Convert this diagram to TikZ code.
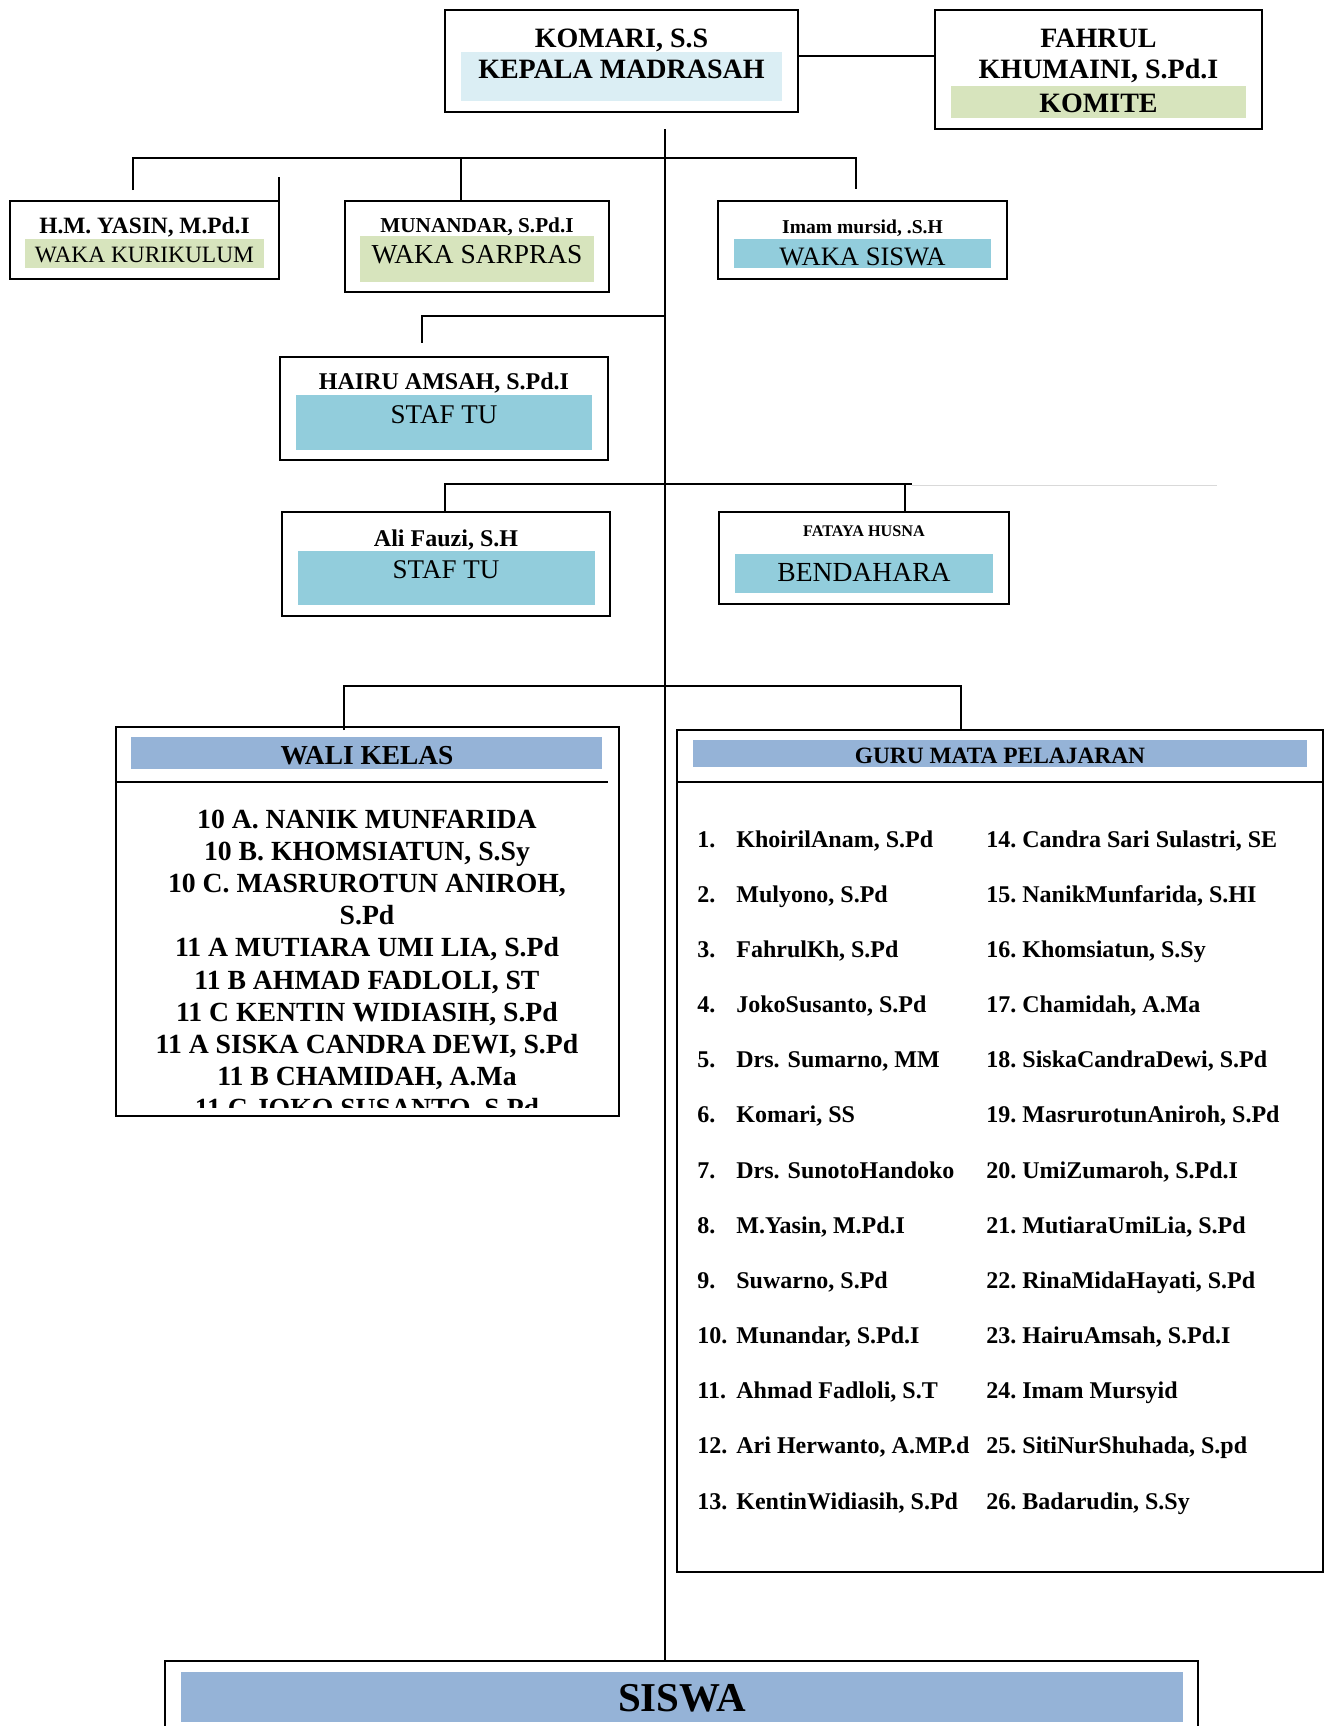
\documentclass[tikz,border=0pt]{standalone}
\usepackage{fontspec}
\setmainfont{Liberation Serif}
\definecolor{kepfill}{HTML}{DBEEF4}
\definecolor{grnfill}{HTML}{D7E4BD}
\definecolor{tealfill}{HTML}{92CDDC}
\definecolor{hdrfill}{HTML}{95B3D7}
\newcommand\myfs[1]{\fontsize{#1}{#1}\selectfont}
\newcommand\gitemA[3]{%
  \node[gtxt] (gn#2) at (697,{847+55.17*(#1-1)}) {#2.};
  \node[gtxt] (gt#2) at (736,{847+55.17*(#1-1)}) {#3};}
\newcommand\gitemB[3]{%
  \node[gtxt] (gn#2) at (986,{847+55.17*(#1-1)}) {#2.};
  \node[gtxt] (gt#2) at (1022,{847+55.17*(#1-1)}) {#3};}
\begin{document}
\begin{tikzpicture}[x=0.5pt,y=-0.5pt,
  box/.style={draw, line width=1.1pt, inner sep=0pt, outer sep=0pt},
  conn/.style={line width=1pt},
  trunk/.style={line width=0.8pt},
  txt/.style={anchor=base, inner sep=0pt},
  bold/.style={txt, font=\myfs{#1}\bfseries},
  reg/.style={txt, font=\myfs{#1}},
  gtxt/.style={anchor=base west, inner sep=0pt, font=\myfs{12}\bfseries}]
\clip (0,0) rectangle (1328,1726);
\fill[white] (0,0) rectangle (1328,1726);
% boxes
\node[box, minimum width=176.5pt, minimum height=51pt] (kep) at (621.5,61) {};
\node[box, minimum width=163.5pt, minimum height=59.5pt] (kom) at (1098.5,69.5) {};
\node[box, minimum width=134.5pt, minimum height=39pt] (kur) at (144.5,240) {};
\node[box, minimum width=132pt, minimum height=45.5pt] (sar) at (477,246.5) {};
\node[box, minimum width=144.5pt, minimum height=39pt] (wsis) at (862.5,240) {};
\node[box, minimum width=164pt, minimum height=51.5pt] (hai) at (444,408.5) {};
\node[box, minimum width=164pt, minimum height=52pt] (ali) at (446,564) {};
\node[box, minimum width=145pt, minimum height=46pt] (ben) at (864,558) {};
\node[box, minimum width=251.5pt, minimum height=194.5pt] (wali) at (367.5,921.5) {};
\node[box, minimum width=323pt, minimum height=421pt] (guru) at (1000,1151) {};
\node[box, minimum width=516.5pt, minimum height=39.5pt] (sis) at (681.5,1700.5) {};
% fills
\fill[kepfill] (461,52) rectangle (782,101);
\fill[grnfill] (951,86) rectangle (1246,118);
\fill[grnfill] (25,239) rectangle (264,268);
\fill[grnfill] (360,236) rectangle (594,282);
\fill[tealfill] (734,239) rectangle (991,268);
\fill[tealfill] (296,395) rectangle (592,450);
\fill[tealfill] (298,551) rectangle (595,605);
\fill[tealfill] (735,554) rectangle (993,593);
\fill[hdrfill] (131,737) rectangle (602,769);
\fill[hdrfill] (693,740) rectangle (1307,767);
\fill[hdrfill] (181,1672) rectangle (1183,1722);
% separators
\coordinate (ws) at (0,782);
\draw[line width=1.1pt] (wali.west |- ws) -- (608,782);
\draw[line width=1.1pt] (guru.west |- ws) -- (guru.east |- ws);
% texts
\node[bold=14] (t1) at (621.5,47) {KOMARI, S.S};
\node[bold=14] (t2) at (621.5,78) {KEPALA MADRASAH};
\node[bold=14] (t3) at (1098.5,47) {FAHRUL};
\node[bold=14] (t4) at (1098.5,78) {KHUMAINI, S.Pd.I};
\node[bold=14] (t5) at (1098.5,112) {KOMITE};
\node[bold=11.7] (t6) at (144.5,233) {H.M. YASIN, M.Pd.I};
\node[reg=11.7] (t7) at (144.5,262) {WAKA KURIKULUM};
\node[bold=10.6] (t8) at (477,232) {MUNANDAR, S.Pd.I};
\node[reg=13.7] (t9) at (477,263) {WAKA SARPRAS};
\node[bold=9.8] (t10) at (862.5,233) {Imam mursid, .S.H};
\node[reg=13.3] (t11) at (862.5,265) {WAKA SISWA};
\node[bold=12] (t12) at (444,389) {HAIRU AMSAH, S.Pd.I};
\node[reg=13.5] (t13) at (444,423) {STAF TU};
\node[bold=12] (t14) at (446,546) {Ali Fauzi, S.H};
\node[reg=13.5] (t15) at (446,578) {STAF TU};
\node[bold=8.1] (t16) at (864,536) {FATAYA HUSNA};
\node[reg=13.8] (t17) at (864,581) {BENDAHARA};
\node[bold=13.7] (t18) at (367,764) {WALI KELAS};
\node[bold=11.7] (t19) at (1000,763) {GURU MATA PELAJARAN};
\node[bold=20.5] (t20) at (682,1711) {SISWA};
% wali kelas list
\begin{scope}
\clip (116,782) rectangle (619,1107);
\node[bold=13.85] (w1) at (367,828) {10 A. NANIK MUNFARIDA};
\node[bold=13.85] (w2) at (367,860.2) {10 B. KHOMSIATUN, S.Sy};
\node[bold=13.85] (w3) at (367,892.4) {10 C. MASRUROTUN ANIROH,};
\node[bold=13.85] (w4) at (367,924.6) {S.Pd};
\node[bold=13.85] (w5) at (367,956.8) {11 A MUTIARA UMI LIA, S.Pd};
\node[bold=13.85] (w6) at (367,989) {11 B AHMAD FADLOLI, ST};
\node[bold=13.85] (w7) at (367,1021.2) {11 C KENTIN WIDIASIH, S.Pd};
\node[bold=13.85] (w8) at (367,1053.4) {11 A SISKA CANDRA DEWI, S.Pd};
\node[bold=13.85] (w9) at (367,1085.6) {11 B CHAMIDAH, A.Ma};
\node[bold=13.85] (w10) at (367,1117.8) {11 C JOKO SUSANTO, S.Pd};
\end{scope}
% guru list
\gitemA{1}{1}{KhoirilAnam, S.Pd}
\gitemA{2}{2}{Mulyono, S.Pd}
\gitemA{3}{3}{FahrulKh, S.Pd}
\gitemA{4}{4}{JokoSusanto, S.Pd}
\gitemA{5}{5}{Drs. Sumarno, MM}
\gitemA{6}{6}{Komari, SS}
\gitemA{7}{7}{Drs. SunotoHandoko}
\gitemA{8}{8}{M.Yasin, M.Pd.I}
\gitemA{9}{9}{Suwarno, S.Pd}
\gitemA{10}{10}{Munandar, S.Pd.I}
\gitemA{11}{11}{Ahmad Fadloli, S.T}
\gitemA{12}{12}{Ari Herwanto, A.MP.d}
\gitemA{13}{13}{KentinWidiasih, S.Pd}
\gitemB{1}{14}{Candra Sari Sulastri, SE}
\gitemB{2}{15}{NanikMunfarida, S.HI}
\gitemB{3}{16}{Khomsiatun, S.Sy}
\gitemB{4}{17}{Chamidah, A.Ma}
\gitemB{5}{18}{SiskaCandraDewi, S.Pd}
\gitemB{6}{19}{MasrurotunAniroh, S.Pd}
\gitemB{7}{20}{UmiZumaroh, S.Pd.I}
\gitemB{8}{21}{MutiaraUmiLia, S.Pd}
\gitemB{9}{22}{RinaMidaHayati, S.Pd}
\gitemB{10}{23}{HairuAmsah, S.Pd.I}
\gitemB{11}{24}{Imam Mursyid}
\gitemB{12}{25}{SitiNurShuhada, S.pd}
\gitemB{13}{26}{Badarudin, S.Sy}
% connectors
\coordinate (kk) at (0,56);
\draw[conn] (kep.east |- kk) -- (kom.west |- kk);
\coordinate (tt) at (665,129);
\draw[trunk] (tt) -- (tt |- sis.north);
\coordinate (b1a) at (133,158);
\coordinate (b1b) at (856,158);
\coordinate (b1c) at (461,158);
\coordinate (d1a) at (133,190);
\coordinate (d1b) at (856,189);
\draw[conn] (d1a) -- (b1a) -- (b1b) -- (d1b);
\draw[conn] (b1c) -- (b1c |- sar.north);
\draw[line width=1.1pt] (kur.north east) -- ++(0,-24);
\coordinate (b2a) at (665,316);
\coordinate (b2b) at (422,316);
\coordinate (d2) at (422,343);
\draw[conn] (b2a) -- (b2b) -- (d2);
\coordinate (b3a) at (445,484);
\coordinate (b3b) at (912,484);
\coordinate (b3c) at (905,484);
\coordinate (g3) at (1217,485);
\draw[conn] (b3a |- ali.north) -- (b3a) -- (b3b);
\draw[conn] (b3c) -- (b3c |- ben.north);
\draw[line width=0.5pt, black!15] (b3b |- g3) -- (g3);
\coordinate (b4a) at (344,686);
\coordinate (b4b) at (961,686);
\coordinate (d4a) at (344,730);
\draw[conn] (d4a) -- (b4a) -- (b4b) -- (b4b |- guru.north);
\end{tikzpicture}
\end{document}
